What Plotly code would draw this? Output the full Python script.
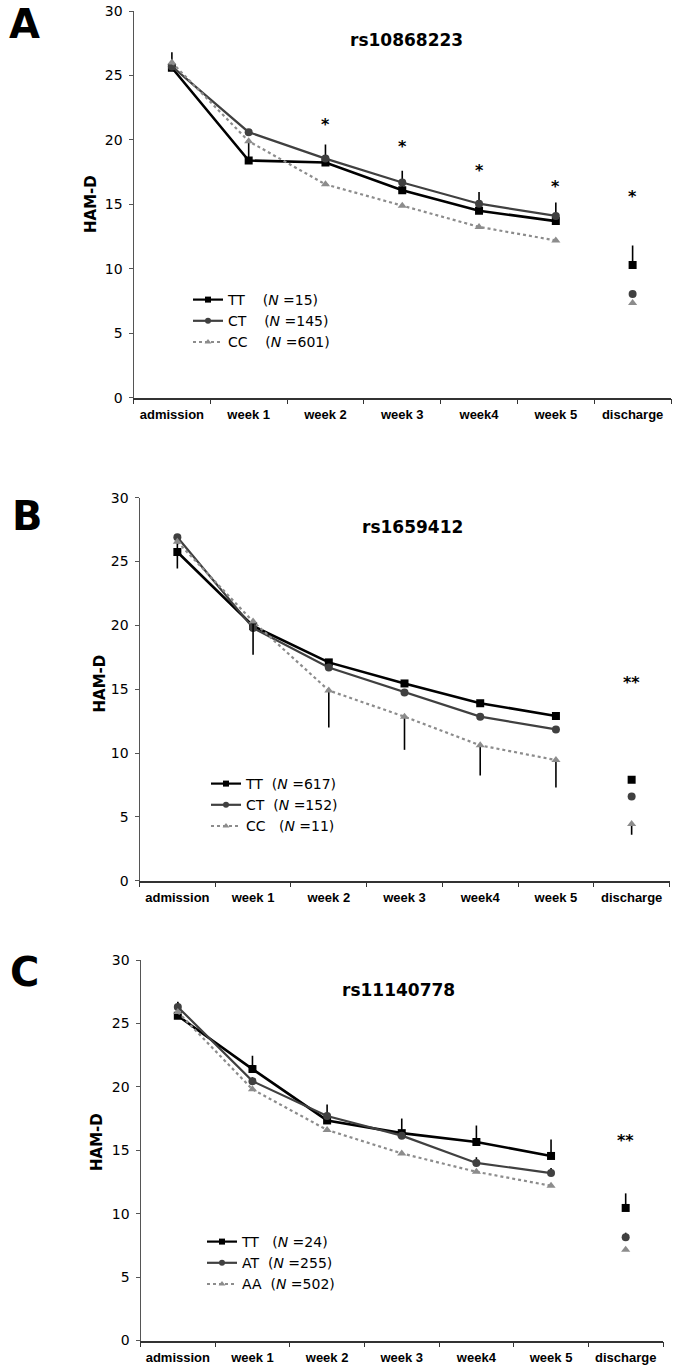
import plotly.graph_objects as go

W, H = 674, 1369

categories = ["admission", "week 1", "week 2", "week 3", "week4", "week 5", "discharge"]

# Panel A: rs10868223
a_title = "rs10868223"
a_names = ["TT    (<i>N</i> =15)", "CT    (<i>N</i> =145)", "CC    (<i>N</i> =601)"]
a_tt = [25.6, 18.4, 18.25, 16.1, 14.5, 13.7, 10.3]
a_ct = [25.7, 20.6, 18.55, 16.7, 15.05, 14.1, 8.05]
a_cc = [26.0, 19.9, 16.55, 14.9, 13.25, 12.2, 7.35]
a_tt_err_up = [1.2, 1.6, 1.4, 1.5, 1.45, 1.45, 1.5]
a_star_text = ["", "", "*", "*", "*", "*", "*"]
a_star_y = [None, None, 21.5, 19.8, 17.9, 16.7, 15.9]

# Panel B: rs1659412
b_title = "rs1659412"
b_names = ["TT  (<i>N</i> =617)", "CT  (<i>N</i> =152)", "CC   (<i>N</i> =11)"]
b_tt = [25.75, 19.95, 17.1, 15.45, 13.9, 12.9, 7.9]
b_ct = [26.9, 19.8, 16.7, 14.75, 12.85, 11.85, 6.6]
b_cc = [26.55, 20.3, 14.9, 12.85, 10.6, 9.45, 4.45]
b_cc_err_down = [2.1, 2.6, 2.9, 2.6, 2.35, 2.15, 0.85]
b_star_text = ["", "", "", "", "", "", "**"]
b_star_y = [None, None, None, None, None, None, 15.8]

# Panel C: rs11140778
c_title = "rs11140778"
c_names = ["TT   (<i>N</i> =24)", "AT  (<i>N</i> =255)", "AA  (<i>N</i> =502)"]
c_tt = [25.6, 21.4, 17.35, 16.35, 15.65, 14.55, 10.45]
c_at = [26.3, 20.45, 17.7, 16.15, 14.0, 13.2, 8.15]
c_aa = [25.9, 19.8, 16.6, 14.75, 13.3, 12.2, 7.15]
c_tt_err_up = [1.05, 1.05, 1.25, 1.15, 1.3, 1.3, 1.15]
c_at_err_up = [0.4, 0.3, 0.3, 0.3, 0.45, 0.4, 0.35]
c_star_text = ["", "", "", "", "", "", "**"]
c_star_y = [None, None, None, None, None, None, 16.05]

yticks = [0, 5, 10, 15, 20, 25, 30]

FONT = "DejaVu Sans, sans-serif"
NARROW = "Liberation Sans Narrow, Liberation Sans, Arial, sans-serif"

def px(x):
    return x / W

def py(y):
    return 1 - y / H

panels = [
    dict(letter="A", title=a_title, names=a_names, series=[a_tt, a_ct, a_cc],
         err=[(a_tt_err_up, None), None, None], stars=(a_star_text, a_star_y),
         xd=(133.5, 671), yd=(11, 397.7), letter_pos=(25, 24), title_pos=(406, 40),
         ham_pos=(91, 204), legend_pos=(188, 284)),
    dict(letter="B", title=b_title, names=b_names, series=[b_tt, b_ct, b_cc],
         err=[None, None, (None, b_cc_err_down)], stars=(b_star_text, b_star_y),
         xd=(139.5, 669.5), yd=(497.7, 880.7), letter_pos=(27, 516), title_pos=(412, 527),
         ham_pos=(99.5, 684), legend_pos=(206, 768)),
    dict(letter="C", title=c_title, names=c_names, series=[c_tt, c_at, c_aa],
         err=[(c_tt_err_up, None), (c_at_err_up, None), None], stars=(c_star_text, c_star_y),
         xd=(140.5, 663), yd=(960, 1340.5), letter_pos=(25, 972), title_pos=(398, 990),
         ham_pos=(97, 1142), legend_pos=(202, 1226)),
]

colors = ["#000000", "#404040", "#8c8c8c"]
symbols = ["square", "circle", "triangle-up"]
dashes = ["solid", "solid", "dot"]
widths = [2.6, 2.2, 2.2]
msizes = [8, 8, 8]

fig = go.Figure()
annotations = []
layout = {}

for i, p in enumerate(panels):
    sfx = "" if i == 0 else str(i + 1)
    xa, ya = "x" + sfx, "y" + sfx
    leg = "legend" if i == 0 else "legend" + str(i + 1)
    for k in range(3):
        vals = p["series"][k]
        e = p["err"][k]
        def mkerr(lo, hi):
            if e is None:
                return None
            up, dn = e
            return dict(type="data", symmetric=False,
                        array=(up[lo:hi] if up else [0] * (hi - lo)),
                        arrayminus=(dn[lo:hi] if dn else [0] * (hi - lo)),
                        color="#000000", thickness=1.6, width=0)
        fig.add_trace(go.Scatter(
            x=categories[:6], y=vals[:6], mode="lines+markers", name=p["names"][k],
            line=dict(color=colors[k], width=widths[k], dash=dashes[k]),
            marker=dict(symbol=symbols[k], size=msizes[k], color=colors[k]),
            error_y=mkerr(0, 6), xaxis=xa, yaxis=ya, showlegend=False))
        fig.add_trace(go.Scatter(
            x=categories[6:], y=vals[6:], mode="markers",
            marker=dict(symbol=symbols[k], size=msizes[k], color=colors[k]),
            error_y=mkerr(6, 7), xaxis=xa, yaxis=ya, showlegend=False))
        # legend-only sample with smaller symbols
        fig.add_trace(go.Scatter(
            x=[None], y=[None], mode="lines+markers", name=p["names"][k],
            line=dict(color=colors[k], width=2.2 if k < 2 else 2, dash=dashes[k]),
            marker=dict(symbol=symbols[k], size=6, color=colors[k]),
            xaxis=xa, yaxis=ya, legend=leg, showlegend=True))
    st, sy = p["stars"]
    for c, t, yv in zip(categories, st, sy):
        if t:
            annotations.append(dict(x=c, y=yv, xref=xa, yref=ya, text="<b>" + t + "</b>",
                                    showarrow=False, yshift=-4,
                                    font=dict(family=FONT, size=16, color="#000")))
    layout["xaxis" + sfx] = dict(
        domain=[px(p["xd"][0]), px(p["xd"][1])], anchor=ya, type="category",
        categoryorder="array", categoryarray=categories, range=[-0.5, 6.5],
        tickson="boundaries", ticks="outside", ticklen=5, tickcolor="#333",
        showline=True, linecolor="#333", linewidth=1.5, showgrid=False, zeroline=False,
        tickangle=0, automargin=False, ticklabelstandoff=4,
        tickfont=dict(family=NARROW, size=13, color="#000", weight="bold"))
    layout["yaxis" + sfx] = dict(
        domain=[py(p["yd"][1]), py(p["yd"][0])], anchor=xa, range=[0, 30],
        tickvals=yticks, ticks="outside", ticklen=4, tickcolor="#555",
        showline=True, linecolor="#555", linewidth=1, showgrid=False, zeroline=False,
        automargin=False, ticklabelstandoff=3,
        tickfont=dict(family=FONT, size=14, color="#000"))
    layout[leg] = dict(x=px(p["legend_pos"][0]), y=py(p["legend_pos"][1]),
                       xanchor="left", yanchor="top", bgcolor="rgba(0,0,0,0)",
                       font=dict(family=FONT, size=14, color="#000"),
                       tracegroupgap=0, traceorder="normal")
    annotations.append(dict(x=px(p["letter_pos"][0]), y=py(p["letter_pos"][1]), xref="paper",
                            yref="paper", text="<b>" + p["letter"] + "</b>", showarrow=False,
                            xanchor="center", yanchor="middle",
                            font=dict(family=FONT, size=40, color="#000")))
    annotations.append(dict(x=px(p["title_pos"][0]), y=py(p["title_pos"][1]), xref="paper",
                            yref="paper", text="<b>" + p["title"] + "</b>", showarrow=False,
                            xanchor="center", yanchor="middle",
                            font=dict(family=FONT, size=17, color="#000")))
    annotations.append(dict(x=px(p["ham_pos"][0]), y=py(p["ham_pos"][1]), xref="paper",
                            yref="paper", text="<b>HAM-D</b>", showarrow=False, textangle=-90,
                            xanchor="center", yanchor="middle",
                            font=dict(family=FONT, size=15, color="#000")))

fig.update_layout(
    width=W, height=H, margin=dict(l=0, r=0, t=0, b=0, autoexpand=False),
    paper_bgcolor="white", plot_bgcolor="white",
    annotations=annotations, **layout)

fig.write_html("out.html", config={"displayModeBar": False},
               post_script="document.body.style.margin='0px';document.body.style.padding='0px';")
